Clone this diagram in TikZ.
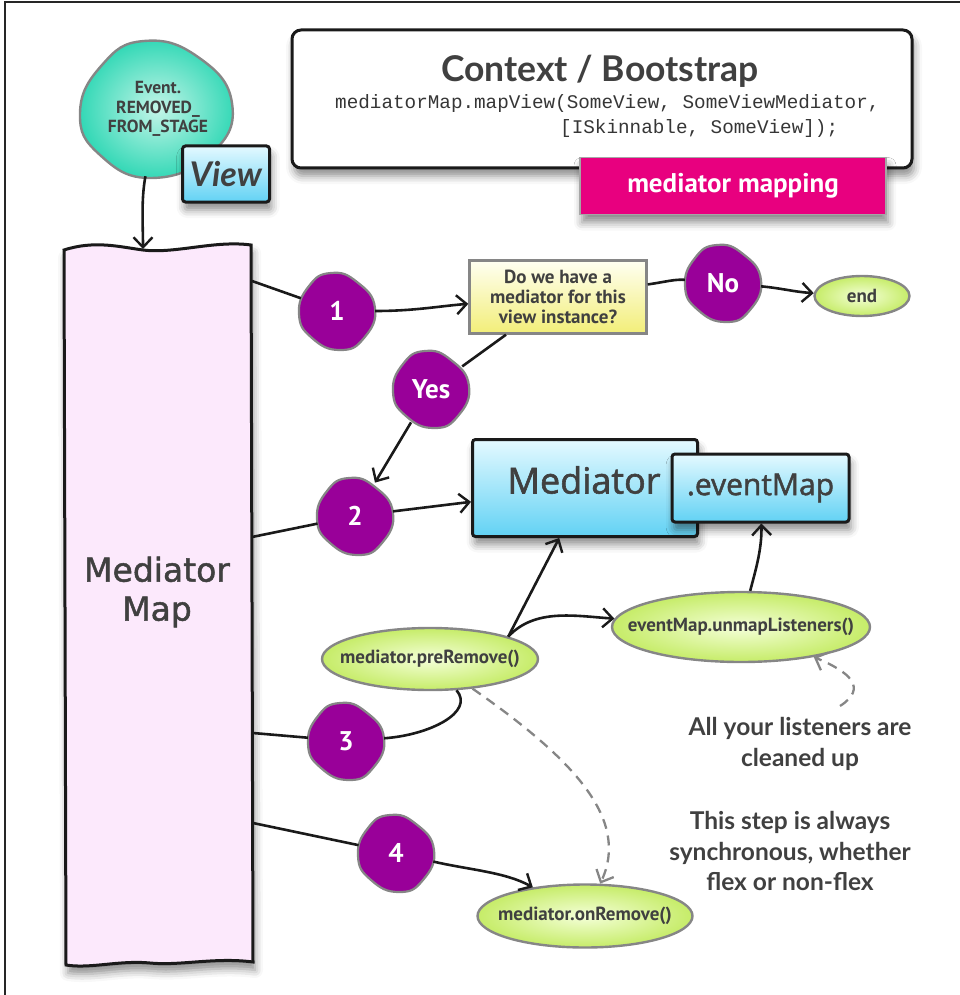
\documentclass[tikz,border=0pt]{standalone}
\usepackage{fontspec}
\setmainfont{PT Sans}
\newfontfamily\handfont{Lato}
\newfontfamily\roundfont[FakeBold=1.6]{Open Sans}
\newfontfamily\wideface[FakeBold=1.4]{DejaVu Sans}
\newfontfamily\codefont{Liberation Mono}
\usetikzlibrary{shapes.geometric,arrows.meta,shadows.blur}

\definecolor{ink}{HTML}{1A1A1A}
\definecolor{txt}{HTML}{404040}
\definecolor{plum}{HTML}{990099}
\definecolor{edgegray}{HTML}{868686}
\definecolor{bluetop}{HTML}{E4F9FF}
\definecolor{bluebot}{HTML}{62D2F4}
\definecolor{yeltop}{HTML}{FFFFF2}
\definecolor{yelbot}{HTML}{F2EE78}
\definecolor{limein}{HTML}{F4FFD8}
\definecolor{limeout}{HTML}{C6EC68}
\definecolor{tealin}{HTML}{C4F5E8}
\definecolor{tealout}{HTML}{33D8B6}
\definecolor{mmpink}{HTML}{FCE9FC}
\definecolor{magenta}{HTML}{E8007F}

\newcommand\fsz[1]{\fontsize{#1}{#1}\selectfont}
% label whose width does not enlarge its ellipse
\newcommand\zerowide[1]{\makebox[0pt]{#1}}

\tikzset{
  conn/.style={draw=ink, line width=2.6pt},
  arr/.style={conn, -{Straight Barb[length=10pt,width=19pt,line width=2.4pt]}},
  dasharr/.style={draw=edgegray, line width=2.3pt, dash pattern=on 10pt off 7pt,
    -{Straight Barb[length=10pt,width=19pt,line width=2.3pt]}},
  softshadow/.style={blur shadow={shadow xshift=2pt, shadow yshift=-8pt,
    shadow blur radius=8pt, shadow opacity=45}},
  blobtext/.style={ellipse, minimum width=76pt, minimum height=78pt, inner sep=0pt,
    text=white, font=\bfseries\fsz{27}},
  blobshape/.style={draw=edgegray, line width=2.2pt, fill=plum},
  bluebox/.style={draw=ink, line width=3pt, rounded corners=3pt, softshadow,
    top color=bluetop, bottom color=bluebot},
  limeell/.style={ellipse, draw=edgegray, line width=2.4pt, inner color=limein,
    outer color=limeout, text=txt, font=\bfseries\fsz{19}, inner sep=0pt},
  note/.style={text=txt, font=\handfont\bfseries\fsz{24.5}, align=center},
}

% purple step marker: irregular blob with a named node on top
\newcommand\purpleblob[3]{%
  \path[blobshape, shift={#2}] plot[smooth cycle, tension=0.85] coordinates
    {(-6,-38) (20,-29) (38,-3) (27,27) (3,39) (-25,27) (-38,3) (-28,-25)};
  \node[blobtext] (#1) at #2 {#3};
}

\begin{document}
\begin{tikzpicture}[x=1pt, y=-1pt]
\useasboundingbox (0,0) rectangle (960,995);

% frame lines
\draw[line width=1.6pt, black!85] (5,995) -- (5,2) -- (960,2);

% context / bootstrap panel
\node[draw=ink, line width=3pt, rounded corners=9pt, fill=white, softshadow,
      minimum width=620pt, minimum height=138pt] (ctx) at (602,99) {};
\node[text=txt, font=\handfont\bfseries\fsz{35.5}] (ctxtitle) at (600,71) {Context / Bootstrap};
\node[text=txt!85!black, font=\codefont\fsz{19.3}, align=left, anchor=north west, inner sep=0pt]
  (code) at (335,94)
  {mediatorMap.mapView(SomeView, SomeViewMediator,\\[6pt]
   \hspace*{225pt}[ISkinnable, SomeView]);};

\node[fill=magenta, draw=black!35, line width=1.6pt, softshadow,
      minimum width=306pt, minimum height=57pt, text=white, font=\bfseries\fsz{27}]
  (mapping) at (733,186) {mediator mapping};

% event blob and view box
\path[draw=edgegray, line width=2.4pt, inner color=tealin, outer color=tealout,
      shift={(156,109)}] plot[smooth cycle, tension=0.8] coordinates
  {(-12,-68) (42,-52) (76,-6) (56,44) (-4,69) (-56,46) (-76,4) (-54,-44)};
\node[ellipse, minimum width=150pt, minimum height=136pt, inner sep=0pt, align=center,
      text=txt, font=\bfseries\fsz{17.5}] (ev) at (158,109)
  {Event.\\[2pt]REMOVED\_\\[2pt]FROM\_STAGE};
\node[bluebox, minimum width=87pt, minimum height=56pt, text=txt,
      font=\handfont\bfseries\itshape\fsz{34}] (view) at (226,174) {View};

% mediator map column
\path[fill=mmpink, draw=ink, line width=3pt, softshadow]
  (64,250) .. controls (95,240) and (120,247) .. (143,250)
  .. controls (175,254) and (215,240) .. (251,245)
  -- (253,962) .. controls (215,957) and (180,966) .. (150,963)
  .. controls (120,960) and (90,969) .. (66,965) -- cycle;
\node[minimum width=188pt, minimum height=720pt] (mm) at (158,605) {};
\node[text=txt, font=\wideface\fsz{33}, align=center] (mmtext) at (157,592)
  {Mediator\\[6pt]Map};
\coordinate (mmtop) at (143,249);
\coordinate (mmA) at (252,281);
\coordinate (mmB) at (252,537);
\coordinate (mmC) at (253,733);
\coordinate (mmD) at (253,823);

% decision
\node[draw=edgegray, line width=2.4pt, top color=yeltop, bottom color=yelbot,
      minimum width=177pt, minimum height=73pt, align=center, text=txt,
      font=\bfseries\fsz{19}] (q) at (558,297)
  {Do we have a\\[1pt]mediator for this\\[1pt]view instance?};
\node[limeell, minimum width=95pt, minimum height=40pt]
  (endnode) at (862,296) {\zerowide{end}};

% mediator and its event map
\node[bluebox, minimum width=225pt, minimum height=97pt] (med) at (585,488) {};
\node[text=txt, font=\roundfont\fsz{36}] (medtext) at (584,480) {Mediator};
\node[bluebox, minimum width=177pt, minimum height=68pt, text=txt,
      font=\roundfont\fsz{30}] (evm) at (760.5,488) {.eventMap};

% lifecycle calls
\node[limeell, minimum width=216pt, minimum height=62pt] (pre) at (430,659)
  {\zerowide{mediator.preRemove()}};
\node[limeell, minimum width=258pt, minimum height=70pt] (unmap) at (741,627)
  {\zerowide{eventMap.unmapListeners()}};
\node[limeell, minimum width=215pt, minimum height=63pt] (onr) at (585,916)
  {\zerowide{mediator.onRemove()}};

% step markers
\purpleblob{n1}{(337,311)}{1}
\purpleblob{no}{(723,283)}{No}
\purpleblob{yes}{(431,389)}{Yes}
\purpleblob{n2}{(355,516)}{2}
\purpleblob{n3}{(346,741)}{3}
\purpleblob{n4}{(396,853)}{4}

% notes
\node[note] (notelisten) at (800,744) {All your listeners are\\[6pt]cleaned up};
\node[note] (notesync) at (790,851)
  {This step is always\\[6pt]synchronous, whether\\[6pt]flex or non-flex};
\coordinate (noteTop) at (840,706);

% connectors
\draw[arr] (ev) .. controls (141,200) and (143,225) .. (mmtop);
\draw[conn] (mmA) -- (n1);
\draw[arr] (n1) .. controls (415,311) and (440,306) .. (q);
\draw[conn] (q) .. controls (665,282) and (675,279) .. (no);
\draw[arr] (no) .. controls (780,288) and (795,292) .. (endnode);
\draw[conn] (q) -- (yes);
\draw[arr] (yes) -- (n2);
\draw[conn] (mmB) -- (n2);
\draw[arr] (n2) -- (med);
\draw[arr] (pre.16) -- (med);
\draw[arr] (pre.16) .. controls (535,608) and (575,616) .. (unmap);
\draw[arr] (unmap) .. controls (755,572) and (762,550) .. (evm);
\draw[conn] (mmC) -- (n3);
\draw[conn] (n3) .. controls (430,735) and (475,712) .. (pre);
\draw[conn] (mmD) -- (n4);
\draw[arr] (n4) .. controls (470,870) and (505,872) .. (onr);
\draw[dasharr] (pre) .. controls (575,760) and (630,820) .. (onr);
\draw[dasharr] (noteTop) .. controls (868,688) and (850,672) .. (unmap);
\end{tikzpicture}
\end{document}
